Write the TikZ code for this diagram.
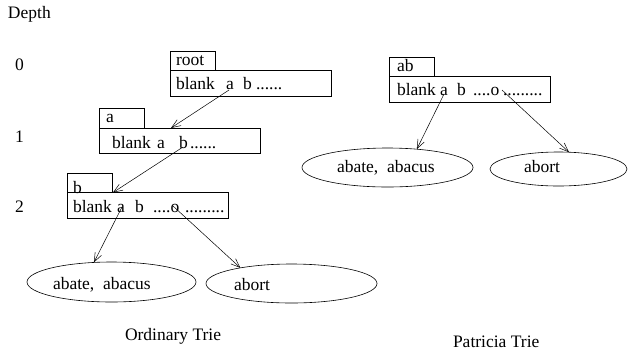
\documentclass[tikz,border=0pt]{standalone}
\usepackage{fontspec}
\setmainfont{Liberation Serif}
\usetikzlibrary{arrows.meta,calc,shapes.geometric}
\begin{document}
\begin{tikzpicture}[x=1pt,y=-1pt,
  txt/.style={inner sep=0pt,outer sep=0pt,anchor=base west,font=\fontsize{17.5}{20}\selectfont},
  smallbox/.style={draw,line width=0.6pt,rectangle,anchor=north west,inner sep=0pt,outer sep=0pt,minimum width=45pt,minimum height=19.5pt},
  bigbox/.style={draw,line width=0.6pt,rectangle,anchor=north west,inner sep=0pt,outer sep=0pt,minimum width=161pt,minimum height=25.5pt},
  leaf/.style={draw,line width=0.6pt,ellipse,inner sep=0pt,outer sep=0pt},
  link/.style={line width=0.5pt,-{Straight Barb[length=9pt,width=7pt]}}]
\useasboundingbox (0,0) rectangle (628,354);
% depth labels
\node[txt] (depth) at (8,18) {Depth};
\node[txt] (d0) at (15,70) {0};
\node[txt] (d1) at (15,142) {1};
\node[txt] (d2) at (15,212) {2};
% ordinary trie: root
\node[smallbox] (rsmall) at (170,51) {};
\node[bigbox] (rbig) at (170,70.5) {};
\node[txt] (rlab) at (176,65) {root};
\node[txt] (r1) at (176,89) {blank};
\node[txt] (r2) at (226,89) {a};
\node[txt] (r3) at (243,89) {b};
\node[txt] (r4) at (256,89) {......};
% a node
\node[smallbox] (asmall) at (99,108.5) {};
\node[bigbox] (abig) at (99,128) {};
\node[txt] (alab) at (106,122) {a};
\node[txt] (a1) at (112,148) {blank};
\node[txt] (a2) at (157,148) {a};
\node[txt] (a3) at (179,148) {b};
\node[txt] (a4) at (190,148) {......};
% b node
\node[smallbox] (bsmall) at (67,173) {};
\node[bigbox] (bbig) at (67,192.5) {};
\node[txt] (blab) at (73,193) {b};
\node[txt] (b1) at (73,212) {blank};
\node[txt] (b2) at (117,212) {a};
\node[txt] (b3) at (135,212) {b};
\node[txt] (b4) at (153,212) {....o};
\node[txt] (b5) at (185,212) {.........};
% leaves ordinary
\node[leaf,minimum width=169pt,minimum height=40pt] (e1) at (111.5,282) {};
\node[txt] (e1t) at (53,289) {abate,\ \ abacus};
\node[leaf,minimum width=171pt,minimum height=39pt] (e2) at (291.5,283.5) {};
\node[txt] (e2t) at (234,290) {abort};
\node[txt] (ot) at (125,340) {Ordinary Trie};
% patricia
\node[smallbox] (psmall) at (389,57) {};
\node[bigbox] (pbig) at (389,76.5) {};
\node[txt] (plab) at (397,71) {ab};
\node[txt] (p1) at (397,95) {blank};
\node[txt] (p2) at (440,95) {a};
\node[txt] (p3) at (457,95) {b};
\node[txt] (p4) at (473,95) {....o};
\node[txt] (p5) at (503,95) {.........};
\node[leaf,minimum width=171pt,minimum height=39pt] (e3) at (387.5,167.5) {};
\node[txt] (e3t) at (337,172) {abate,\ \ abacus};
\node[leaf,minimum width=137pt,minimum height=34pt] (e4) at (558.5,169) {};
\node[txt] (e4t) at (524,172) {abort};
\node[txt] (pt) at (453,347) {Patricia Trie};
% start points on letters
\coordinate (sra) at (229,90);
\coordinate (sab) at (183,147);
\coordinate (sba) at (122,207);
\coordinate (sbo) at (173,206);
\coordinate (spa) at (444,94);
\coordinate (spo) at (502,90);
% connectors
\draw[link] (sra) -- ($(abig.north west)+(72,0)$);
\draw[link] (sab) -- ($(bbig.north west)+(46,0)$);
\draw[link] (sba) -- (e1.132.8);
\draw[link] (sbo) -- (e2.163.6);
\draw[link] (spa) -- (e3.32.3);
\draw[link] (spo) -- (e4.58.3);
\end{tikzpicture}
\end{document}
